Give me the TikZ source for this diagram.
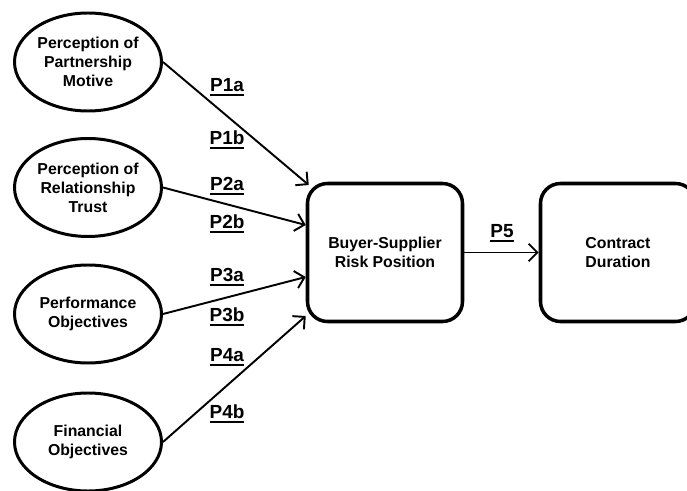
\documentclass[tikz,border=0pt]{standalone}
\usepackage{fontspec}
\setmainfont{Liberation Sans}
\usetikzlibrary{shapes.geometric, arrows.meta, positioning, calc}

\newcommand{\plab}[1]{\setbox0=\hbox{#1}\rlap{\rule[-2.4pt]{\wd0}{1.2pt}}\box0}

\begin{document}
\begin{tikzpicture}[
  factor/.style={draw, ellipse, line width=1.7pt, minimum width=2.94cm, minimum height=1.96cm, inner sep=0pt, align=center, font=\fontsize{9}{10.8}\selectfont\bfseries},
  stagebox/.style={draw, rounded corners=0.4cm, line width=2pt, minimum width=3.1cm, minimum height=2.76cm, align=center, font=\fontsize{9}{10.8}\selectfont\bfseries},
  link/.style={-{Straight Barb[length=5pt, width=10pt]}, line width=1.1pt},
  plabel/.style={font=\fontsize{10.8}{13}\selectfont\bfseries, inner sep=0pt}
]
  \useasboundingbox (0,0) rectangle (13.74,-9.82);

  % Antecedents
  \node[factor] (motive) at (1.76,-1.24) {Perception of\\Partnership\\Motive};
  \node[factor] (trust) at (1.76,-3.75) {Perception of\\Relationship\\Trust};
  \node[factor] (perf) at (1.76,-6.28) {Performance\\Objectives};
  \node[factor] (fin) at (1.76,-8.84) {Financial\\Objectives};

  % Risk position and outcome
  \node[stagebox] (risk) at (7.7,-5.05) {Buyer-Supplier\\Risk Position};
  \node[stagebox] (dur) at (12.36,-5.05) {Contract\\Duration};

  \draw[link] (motive.east) -- ([xshift=0.06cm, yshift=1.35cm]risk.west);
  \draw[link] (trust.east) -- ([yshift=0.55cm]risk.west);
  \draw[link] (perf.east) -- ([yshift=-0.49cm]risk.west);
  \draw[link] (fin.east) -- ([yshift=-1.27cm]risk.west);
  \draw[link] (risk) -- (dur);

  % Propositions
  \node[plabel] (p1a) at (4.54,-1.74) {\plab{P1a}};
  \node[plabel] (p1b) at (4.54,-2.80) {\plab{P1b}};
  \node[plabel] (p2a) at (4.54,-3.72) {\plab{P2a}};
  \node[plabel] (p2b) at (4.54,-4.48) {\plab{P2b}};
  \node[plabel] (p3a) at (4.54,-5.54) {\plab{P3a}};
  \node[plabel] (p3b) at (4.54,-6.34) {\plab{P3b}};
  \node[plabel] (p4a) at (4.54,-7.14) {\plab{P4a}};
  \node[plabel] (p4b) at (4.54,-8.28) {\plab{P4b}};
  \node[plabel] (p5) at (10.04,-4.66) {\plab{P5}};
\end{tikzpicture}
\end{document}
